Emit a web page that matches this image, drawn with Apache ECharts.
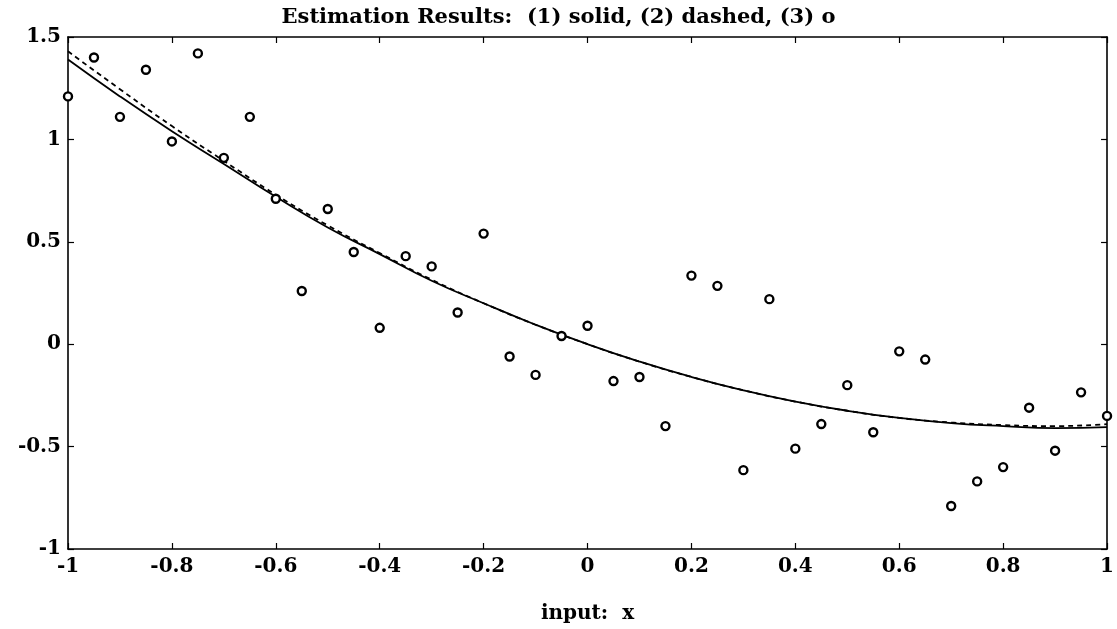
<!DOCTYPE html>
<html style="height: 100%">
    <head>
        <meta charset="utf-8">
    </head>
    <body style="height: 100%; margin: 0; background: #fff">
        <div id="container" style="height: 100%"></div>
        <script type="text/javascript" src="https://cdn.jsdelivr.net/npm/echarts@6/dist/echarts.min.js"></script>
        <script type="text/javascript">
    // observed samples (3) o
    var obsX = [-1, -0.95, -0.9, -0.85, -0.8, -0.75, -0.7, -0.65, -0.6, -0.55, -0.5,
                -0.45, -0.4, -0.35, -0.3, -0.25, -0.2, -0.15, -0.1, -0.05, 0,
                0.05, 0.1, 0.15, 0.2, 0.25, 0.3, 0.35, 0.4, 0.45, 0.5,
                0.55, 0.6, 0.65, 0.7, 0.75, 0.8, 0.85, 0.9, 0.95, 1];
    var obsY = [1.21, 1.40, 1.11, 1.34, 0.99, 1.42, 0.91, 1.11, 0.71, 0.26, 0.66,
                0.45, 0.08, 0.43, 0.38, 0.155, 0.54, -0.06, -0.15, 0.04, 0.09,
                -0.18, -0.16, -0.40, 0.335, 0.285, -0.615, 0.22, -0.51, -0.39, -0.20,
                -0.43, -0.035, -0.075, -0.79, -0.67, -0.60, -0.31, -0.52, -0.235, -0.35];

    // estimated curves (1) solid, (2) dashed
    var curveX = [-1, -0.9, -0.8, -0.7, -0.6, -0.5, -0.4, -0.3, -0.2, -0.1, 0,
                  0.1, 0.2, 0.3, 0.4, 0.5, 0.6, 0.7, 0.8, 0.9, 1];
    var solidY = [1.39, 1.21, 1.04, 0.88, 0.72, 0.57, 0.44, 0.31, 0.20, 0.095, 0,
                  -0.085, -0.16, -0.225, -0.28, -0.325, -0.36, -0.385, -0.40, -0.41, -0.405];
    var dashedY = [1.43, 1.245, 1.065, 0.895, 0.73, 0.58, 0.445, 0.315, 0.20, 0.095, 0,
                   -0.085, -0.16, -0.225, -0.28, -0.325, -0.36, -0.382, -0.395, -0.40, -0.39];

    function pairs(xs, ys) {
        var out = [];
        for (var i = 0; i < xs.length; i++) {
            out.push([xs[i], ys[i]]);
        }
        return out;
    }

    var font = 'DejaVu Serif';
    var dom = document.getElementById("container");
    var myChart = echarts.init(dom);

    var tickStyle = { show: true, inside: true, length: 6, lineStyle: { color: '#000', width: 1.2 } };
    var lineAxis = { show: true, onZero: false, lineStyle: { color: '#000', width: 1.6 } };
    var labelStyle = { color: '#000', fontFamily: font, fontWeight: 'bold', fontSize: 20 };

    var option = {
        animation: false,
        backgroundColor: '#fff',
        title: {
            text: 'Estimation Results:  (1) solid, (2) dashed, (3) o',
            left: 'center',
            top: 2,
            textStyle: { color: '#000', fontFamily: font, fontWeight: 'bold', fontSize: 21 }
        },
        grid: { left: 68, right: 7, top: 37, bottom: 76 },
        xAxis: [{
            type: 'value', min: -1, max: 1, interval: 0.2,
            name: 'input:  x', nameLocation: 'middle', nameGap: 55,
            nameTextStyle: labelStyle,
            axisLine: lineAxis, axisTick: tickStyle,
            axisLabel: Object.assign({ margin: 8 }, labelStyle),
            splitLine: { show: false }
        }, {
            type: 'value', min: -1, max: 1, interval: 0.2, position: 'top',
            axisLine: lineAxis, axisTick: tickStyle,
            axisLabel: { show: false }, splitLine: { show: false }
        }],
        yAxis: [{
            type: 'value', min: -1, max: 1.5, interval: 0.5,
            axisLine: lineAxis, axisTick: tickStyle,
            axisLabel: Object.assign({ margin: 7 }, labelStyle),
            splitLine: { show: false }
        }, {
            type: 'value', min: -1, max: 1.5, interval: 0.5, position: 'right',
            axisLine: lineAxis, axisTick: tickStyle,
            axisLabel: { show: false }, splitLine: { show: false }
        }],
        series: [{
            name: 'solid', type: 'line', smooth: true, symbol: 'none',
            data: pairs(curveX, solidY),
            lineStyle: { color: '#000', width: 1.8 }
        }, {
            name: 'dashed', type: 'line', smooth: true, symbol: 'none',
            data: pairs(curveX, dashedY),
            lineStyle: { color: '#000', width: 1.8, type: [5, 4] }
        }, {
            name: 'o', type: 'scatter', symbol: 'circle', symbolSize: 8,
            data: pairs(obsX, obsY),
            itemStyle: { color: '#fff', borderColor: '#000', borderWidth: 2.4, opacity: 1 },
            z: 5
        }]
    };

    if (option && typeof option === 'object') {
        myChart.setOption(option);
    }
        </script>
    </body>
</html>
